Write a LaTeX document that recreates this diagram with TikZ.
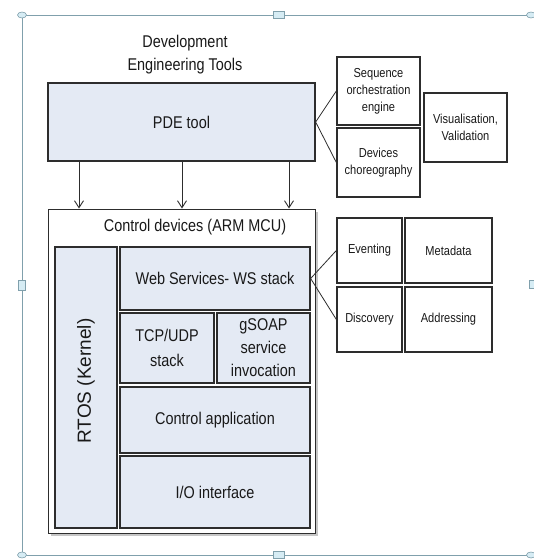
\documentclass[tikz,border=0pt]{standalone}
\usepackage{fontspec}
\setmainfont{Liberation Sans}[FakeStretch=0.85]
\newfontfamily\widesans{Liberation Sans}
\usetikzlibrary{arrows.meta,shapes.geometric}
\definecolor{boxfill}{RGB}{228,234,244}
\definecolor{ink}{RGB}{25,25,25}
\definecolor{edge}{RGB}{45,45,45}
\definecolor{framecol}{RGB}{128,160,172}
\definecolor{handlefill}{RGB}{214,236,244}
\tikzset{
  layer/.style={draw=edge, line width=1.3pt, fill=boxfill, inner sep=0pt, align=center,
    text=ink, font=\fontsize{17}{22}\selectfont},
  sidebox/.style={draw=edge, line width=1.3pt, fill=white, inner sep=0pt, align=center,
    text=ink, font=\fontsize{13}{17}\selectfont},
  link/.style={draw=edge, line width=0.8pt},
  feed/.style={draw=edge, line width=0.9pt, -{Straight Barb[length=7pt,width=9pt]}},
  handleround/.style={ellipse, draw=framecol, fill=handlefill, line width=0.6pt,
    minimum width=9pt, minimum height=6pt, inner sep=0pt},
  handlesquare/.style={rectangle, draw=framecol, fill=handlefill, line width=0.6pt,
    minimum width=11pt, minimum height=7pt, inner sep=0pt},
}
\begin{document}
\begin{tikzpicture}[x=1pt, y=-1pt]
\useasboundingbox (0,0) rectangle (534,560);
\fill[white] (0,0) rectangle (534,560);

% selection frame around the drawing
\draw[framecol, line width=0.9pt] (531,15) -- (22,15) -- (22,555) -- (531,555);
\node[handleround] (h1) at (22,15) {};
\node[handleround] (h2) at (531,15) {};
\node[handleround] (h3) at (22,555) {};
\node[handleround] (h4) at (531,555) {};
\node[handlesquare] (h5) at (279,15) {};
\node[handlesquare] (h6) at (279,555) {};
\node[handlesquare, minimum width=7pt, minimum height=10pt] (h7) at (22,285) {};
\node[handlesquare, minimum width=5pt, minimum height=8pt] (h8) at (532,284) {};

% engineering tools
\node[align=center, text=ink, font=\fontsize{17}{23}\selectfont] (title) at (185,55)
  {Development\\Engineering Tools};
\node[layer, minimum width=267pt, minimum height=78pt] (pde) at (181.5,122) {PDE tool};

\node[sidebox, minimum width=83pt, minimum height=68pt] (seq) at (378.5,91)
  {Sequence\\orchestration\\engine};
\node[sidebox, minimum width=83pt, minimum height=69pt] (dev) at (378.5,162.5)
  {Devices\\choreography};
\node[sidebox, minimum width=83pt, minimum height=69pt] (vis) at (465.5,127.5)
  {Visualisation,\\Validation};

\draw[link] (seq.west) -- (pde.east) -- (dev.west);

% control device stack
\fill[gray!45] (50.5,211.5) rectangle (317.5,535.5);
\node[draw=edge, line width=1pt, fill=white, minimum width=267pt, minimum height=324pt,
  inner sep=0pt] (ctrl) at (181.5,371) {};
\node[text=ink, font=\fontsize{17}{22}\selectfont] (ctrltitle) at (195,227)
  {Control devices (ARM MCU)};

\node[layer, minimum width=62pt, minimum height=281pt] (rtos) at (86,387.5) {};
\node[rotate=90, text=ink, font=\widesans\fontsize{19}{22}\selectfont] (rtoslabel)
  at (86,381) {RTOS (Kernel)};

\node[layer, minimum width=190pt, minimum height=63pt] (ws) at (215,278.5)
  {Web Services- WS stack};
\node[layer, minimum width=94pt, minimum height=70pt,
  font=\fontsize{17}{25}\selectfont] (tcp) at (167,348) {TCP/UDP\\stack};
\node[layer, minimum width=93pt, minimum height=70pt,
  font=\fontsize{17}{23}\selectfont] (gsoap) at (263.5,348) {gSOAP\\service\\invocation};
\node[layer, minimum width=190pt, minimum height=66pt] (app) at (215,420)
  {Control application};
\node[layer, minimum width=190pt, minimum height=72pt] (io) at (215,492)
  {I/O interface};

\foreach \x in {79,182,289}
  \draw[feed] (\x,0 |- pde.south) -- (\x,0 |- ctrl.north);

% web service protocols
\node[sidebox, minimum width=65pt, minimum height=65pt] (evt) at (369.5,250.5) {Eventing};
\node[sidebox, minimum width=87pt, minimum height=65pt] (meta) at (448.5,250.5) {Metadata};
\node[sidebox, minimum width=65pt, minimum height=65pt] (disc) at (369.5,319.5) {Discovery};
\node[sidebox, minimum width=87pt, minimum height=65pt] (addr) at (448.5,319.5) {Addressing};

\draw[link] (evt.west) -- (ws.east) -- (disc.west);
\end{tikzpicture}
\end{document}
